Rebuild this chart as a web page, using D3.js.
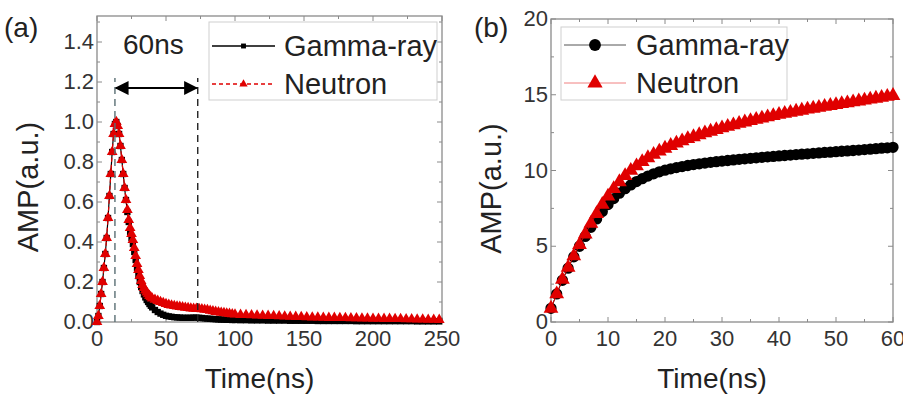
<!DOCTYPE html>
<html>
<head>
<meta charset="utf-8">
<script src="https://cdn.jsdelivr.net/npm/d3@7"></script>
<style>
  body { margin: 0; background: #fff; }
  svg { display: block; font-family: "Liberation Sans", Arial, sans-serif; }
</style>
</head>
<body>
<div id="vis"></div>
<script>
// ---- panel (a): pulse shapes ----
var timeA = d3.range(0, 41, 1).concat(d3.range(42, 101, 2)).concat(d3.range(104, 251, 4));

var gammaA = [
  0, 0.03, 0.08, 0.14, 0.2, 0.27, 0.34, 0.42, 0.52, 0.63,
  0.74, 0.85, 0.94, 0.99, 1.0, 0.98, 0.94, 0.88, 0.81, 0.74,
  0.67, 0.61, 0.55, 0.5, 0.45, 0.42, 0.39, 0.35, 0.31, 0.27,
  0.23, 0.2, 0.175, 0.155, 0.138, 0.123, 0.11, 0.1, 0.09, 0.081, 0.073,
  // 42..100 step 2
  0.06, 0.05, 0.042, 0.036, 0.031, 0.028, 0.026, 0.024, 0.023, 0.022,
  0.021, 0.021, 0.021, 0.021, 0.022, 0.022, 0.021, 0.02, 0.018, 0.017,
  0.016, 0.015, 0.014, 0.013, 0.012, 0.012, 0.011, 0.011, 0.01, 0.01,
  // 104..248 step 4
  0.009, 0.009, 0.008, 0.008, 0.008, 0.007, 0.007, 0.007, 0.007, 0.006,
  0.006, 0.006, 0.006, 0.006, 0.005, 0.005, 0.005, 0.005, 0.005, 0.005,
  0.005, 0.004, 0.004, 0.004, 0.004, 0.004, 0.004, 0.004, 0.004, 0.004,
  0.004, 0.004, 0.003, 0.003, 0.003, 0.003, 0.003
];

var neutronA = [
  0, 0.03, 0.08, 0.14, 0.2, 0.27, 0.34, 0.42, 0.52, 0.63,
  0.74, 0.85, 0.94, 0.99, 1.0, 0.98, 0.94, 0.88, 0.81, 0.74,
  0.67, 0.61, 0.56, 0.51, 0.47, 0.44, 0.41, 0.37, 0.33, 0.29,
  0.26, 0.23, 0.205, 0.185, 0.17, 0.158, 0.148, 0.139, 0.131, 0.124, 0.118,
  // 42..100 step 2
  0.112, 0.106, 0.1, 0.095, 0.09, 0.086, 0.083, 0.08, 0.078, 0.076,
  0.074, 0.072, 0.07, 0.068, 0.067, 0.066, 0.065, 0.064, 0.062, 0.06,
  0.057, 0.054, 0.051, 0.049, 0.047, 0.045, 0.043, 0.041, 0.039, 0.038,
  // 104..248 step 4
  0.036, 0.035, 0.034, 0.033, 0.032, 0.031, 0.03, 0.029, 0.028, 0.027,
  0.026, 0.025, 0.024, 0.023, 0.023, 0.022, 0.021, 0.021, 0.02, 0.02,
  0.019, 0.019, 0.018, 0.018, 0.017, 0.017, 0.016, 0.016, 0.015, 0.015,
  0.014, 0.014, 0.013, 0.013, 0.012, 0.012, 0.011
];

var xTicksA = [0, 50, 100, 150, 200, 250];
var yTicksA = [0, 0.2, 0.4, 0.6, 0.8, 1.0, 1.2, 1.4];
var windowA = [13, 73];   // the 60ns integration window

// ---- panel (b): integrated charge ----
var timeB = d3.range(0, 61, 1);

var gammaB = [
  0.9, 1.85, 2.75, 3.55, 4.3, 5.0, 5.65, 6.25, 6.8, 7.3,
  7.75, 8.15, 8.5, 8.8, 9.05, 9.27, 9.46, 9.63, 9.78, 9.91,
  10.02, 10.11, 10.19, 10.26, 10.33, 10.39, 10.44, 10.49, 10.54, 10.58,
  10.62, 10.66, 10.7, 10.74, 10.77, 10.8, 10.84, 10.87, 10.9, 10.93,
  10.96, 10.99, 11.02, 11.05, 11.08, 11.1, 11.13, 11.16, 11.19, 11.21,
  11.24, 11.27, 11.29, 11.32, 11.35, 11.38, 11.41, 11.44, 11.47, 11.5, 11.53
];

var neutronB = [
  0.9, 1.85, 2.8, 3.6, 4.35, 5.1, 5.8, 6.5, 7.15, 7.75,
  8.3, 8.8, 9.25, 9.65, 10.0, 10.3, 10.58, 10.83, 11.06, 11.27,
  11.46, 11.64, 11.8, 11.95, 12.09, 12.22, 12.35, 12.47, 12.58, 12.69,
  12.8, 12.9, 13.0, 13.1, 13.19, 13.28, 13.37, 13.45, 13.53, 13.61,
  13.69, 13.76, 13.83, 13.9, 13.97, 14.04, 14.1, 14.16, 14.22, 14.28,
  14.34, 14.4, 14.46, 14.52, 14.58, 14.64, 14.7, 14.76, 14.82, 14.88, 14.94
];

var xTicksB = [0, 10, 20, 30, 40, 50, 60];
var yTicksB = [0, 5, 10, 15, 20];

var seriesNames = ['Gamma-ray', 'Neutron'];

var width = 903, height = 399;
var frameColor = '#8a8a8a';
var labelColor = '#333';

var svg = d3.select('#vis').append('svg')
  .attr('width', width)
  .attr('height', height);

function drawFrame(x, y, xTicks, yTicks, xMinor, yMinor, yFmt, titleOffset) {
  var x0 = x.range()[0], x1 = x.range()[1];
  var y0 = y.range()[0], y1 = y.range()[1];
  var g = svg.append('g');

  g.append('rect')
    .attr('x', x0).attr('y', y1)
    .attr('width', x1 - x0).attr('height', y0 - y1)
    .attr('fill', 'none')
    .attr('stroke', frameColor)
    .attr('stroke-width', 1.3);

  function ticks(vals, len) {
    vals.forEach(function(v) {
      var px = x(v);
      g.append('line').attr('x1', px).attr('x2', px).attr('y1', y0).attr('y2', y0 - len)
        .attr('stroke', frameColor);
      g.append('line').attr('x1', px).attr('x2', px).attr('y1', y1).attr('y2', y1 + len)
        .attr('stroke', frameColor);
    });
  }
  function yticks(vals, len) {
    vals.forEach(function(v) {
      var py = y(v);
      g.append('line').attr('x1', x0).attr('x2', x0 + len).attr('y1', py).attr('y2', py)
        .attr('stroke', frameColor);
      g.append('line').attr('x1', x1).attr('x2', x1 - len).attr('y1', py).attr('y2', py)
        .attr('stroke', frameColor);
    });
  }
  ticks(xTicks, 5);
  ticks(xMinor, 3);
  yticks(yTicks, 5);
  yticks(yMinor, 3);

  g.selectAll(null).data(xTicks).enter().append('text')
    .attr('x', function(d) { return x(d); })
    .attr('y', y0 + 24)
    .attr('text-anchor', 'middle')
    .attr('font-size', 22)
    .attr('fill', labelColor)
    .text(function(d) { return d; });

  g.selectAll(null).data(yTicks).enter().append('text')
    .attr('x', x0 - 3)
    .attr('y', function(d) { return y(d) + 7; })
    .attr('text-anchor', 'end')
    .attr('font-size', 22)
    .attr('fill', labelColor)
    .text(yFmt);

  // axis titles
  g.append('text')
    .attr('x', (x0 + x1) / 2 - 10)
    .attr('y', 388)
    .attr('text-anchor', 'middle')
    .attr('font-size', 28)
    .attr('fill', '#222')
    .text('Time(ns)');

  g.append('text')
    .attr('transform', 'translate(' + (x0 - titleOffset) + ',' + ((y0 + y1) / 2 + 18) + ') rotate(-90)')
    .attr('text-anchor', 'middle')
    .attr('font-size', 29)
    .attr('fill', '#222')
    .text('AMP(a.u.)');
}

function drawSeries(x, y, xs, ys, opt) {
  var pts = xs.map(function(t, i) { return [x(t), y(ys[i])]; });
  svg.append('path')
    .attr('d', d3.line()(pts))
    .attr('fill', 'none')
    .attr('stroke', opt.color)
    .attr('stroke-width', opt.lw)
    .attr('stroke-dasharray', opt.dash || null);
  svg.append('g').selectAll('path')
    .data(pts).enter().append('path')
    .attr('d', d3.symbol().type(opt.symbol).size(opt.size))
    .attr('transform', function(p) { return 'translate(' + p[0] + ',' + p[1] + ')'; })
    .attr('fill', opt.color);
}

function drawLegend(box, rows) {
  svg.append('rect')
    .attr('x', box.x).attr('y', box.y)
    .attr('width', box.w).attr('height', box.h)
    .attr('fill', '#fff')
    .attr('stroke', '#cfcfcf');
  rows.forEach(function(r) {
    svg.append('line')
      .attr('x1', box.lx0).attr('x2', box.lx1)
      .attr('y1', r.y).attr('y2', r.y)
      .attr('stroke', r.lineColor)
      .attr('stroke-width', r.lw)
      .attr('stroke-dasharray', r.dash || null);
    svg.append('path')
      .attr('d', d3.symbol().type(r.symbol).size(r.size))
      .attr('transform', 'translate(' + ((box.lx0 + box.lx1) / 2) + ',' + r.y + ')')
      .attr('fill', r.color);
    svg.append('text')
      .attr('x', box.tx)
      .attr('y', r.y + 10)
      .attr('font-size', 29)
      .attr('fill', '#222')
      .text(r.name);
  });
}

// ================= panel (a) =================
var xA = d3.scaleLinear().domain([0, 250]).range([97, 442]);
var yA = d3.scaleLinear().domain([0, 1.53]).range([322, 16]);

drawFrame(xA, yA, xTicksA, yTicksA, [25, 75, 125, 175, 225],
  [0.1, 0.3, 0.5, 0.7, 0.9, 1.1, 1.3, 1.5], d3.format('.1f'), 59);

drawSeries(xA, yA, timeA, gammaA,
  { color: '#000', lw: 1.2, symbol: d3.symbolSquare, size: 40 });
drawSeries(xA, yA, timeA, neutronA,
  { color: '#e00000', lw: 1.2, dash: '4,3', symbol: d3.symbolTriangle, size: 50 });

// 60ns window
windowA.forEach(function(t, i) {
  svg.append('line')
    .attr('x1', xA(t)).attr('x2', xA(t))
    .attr('y1', yA(0)).attr('y2', yA(1.22))
    .attr('stroke', i === 0 ? '#5a6f74' : '#222')
    .attr('stroke-width', 1.4)
    .attr('stroke-dasharray', '7,5');
});
svg.append('defs').append('marker')
  .attr('id', 'arrow')
  .attr('viewBox', '0 0 10 10')
  .attr('refX', 9).attr('refY', 5)
  .attr('markerWidth', 7).attr('markerHeight', 7)
  .attr('orient', 'auto-start-reverse')
  .append('path').attr('d', 'M0,0 L10,5 L0,10 Z').attr('fill', '#000');
svg.append('line')
  .attr('x1', xA(windowA[0]) + 1).attr('x2', xA(windowA[1]) - 1)
  .attr('y1', yA(1.17)).attr('y2', yA(1.17))
  .attr('stroke', '#000')
  .attr('stroke-width', 2)
  .attr('marker-start', 'url(#arrow)')
  .attr('marker-end', 'url(#arrow)');
svg.append('text')
  .attr('x', 123).attr('y', 54)
  .attr('font-size', 28)
  .attr('fill', '#222')
  .text('60ns');

drawLegend({ x: 209, y: 22, w: 228, h: 78, lx0: 212, lx1: 275, tx: 284 }, [
  { name: seriesNames[0], y: 46, color: '#000', lineColor: '#000', lw: 1.5, symbol: d3.symbolSquare, size: 24 },
  { name: seriesNames[1], y: 84, color: '#e00000', lineColor: '#e00000', lw: 1.5, dash: '4,3', symbol: d3.symbolTriangle, size: 30 }
]);

svg.append('text').attr('x', 4).attr('y', 37).attr('font-size', 28).attr('fill', '#222').text('(a)');

// ================= panel (b) =================
var xB = d3.scaleLinear().domain([0, 60]).range([551, 893]);
var yB = d3.scaleLinear().domain([0, 20]).range([322, 19]);

drawFrame(xB, yB, xTicksB, yTicksB, [5, 15, 25, 35, 45, 55],
  [2.5, 7.5, 12.5, 17.5], d3.format('d'), 50);

drawSeries(xB, yB, timeB, gammaB,
  { color: '#000', lw: 1, symbol: d3.symbolCircle, size: 100 });
drawSeries(xB, yB, timeB, neutronB,
  { color: '#e00000', lw: 1, symbol: d3.symbolTriangle, size: 95 });

drawLegend({ x: 561, y: 27, w: 226, h: 73, lx0: 564, lx1: 626, tx: 636 }, [
  { name: seriesNames[0], y: 45, color: '#000', lineColor: '#555', lw: 1, symbol: d3.symbolCircle, size: 110 },
  { name: seriesNames[1], y: 83, color: '#e00000', lineColor: '#f08080', lw: 1, symbol: d3.symbolTriangle, size: 100 }
]);

svg.append('text').attr('x', 474).attr('y', 37).attr('font-size', 28).attr('fill', '#222').text('(b)');
</script>
</body>
</html>
